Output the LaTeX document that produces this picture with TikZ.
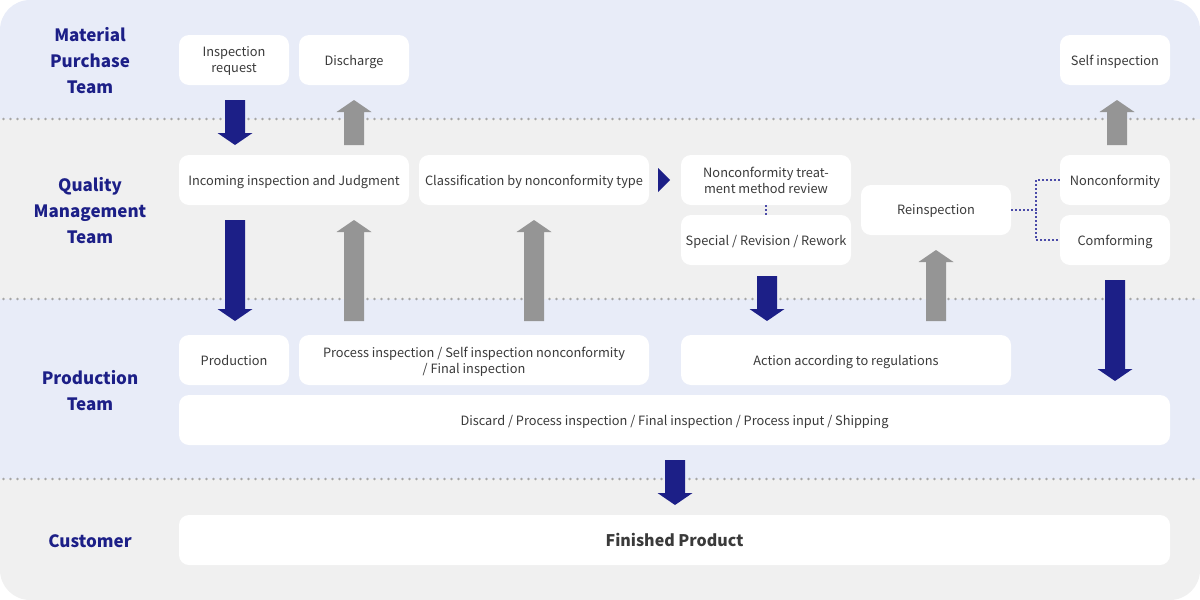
\documentclass[tikz,border=0pt]{standalone}
\usepackage{fontspec}
\setmainfont{Noto Sans CJK KR}
\definecolor{bgblue}{HTML}{E8ECF8}
\definecolor{bggray}{HTML}{F0F0F0}
\definecolor{navy}{HTML}{1C1F87}
\definecolor{arrgray}{HTML}{959595}
\definecolor{txt}{HTML}{3A3A3A}
\definecolor{fintxt}{HTML}{3A3A3A}
\definecolor{dotgray}{HTML}{A6A6A6}
\definecolor{dotblue}{HTML}{4B4BA8}
\newcommand{\dnarrow}[4]{% x, top, tip, color
  \fill[#4] (#1-10,#2) -- (#1+10,#2) -- (#1+10,#3-12) -- (#1+17.5,#3-12) -- (#1,#3) -- (#1-17.5,#3-12) -- (#1-10,#3-12) -- cycle;}
\newcommand{\uparrowblk}[4]{% x, tip(top), bottom, color
  \fill[#4] (#1-10,#3) -- (#1+10,#3) -- (#1+10,#2+12) -- (#1+17.5,#2+12) -- (#1,#2) -- (#1-17.5,#2+12) -- (#1-10,#2+12) -- cycle;}
\begin{document}
\begin{tikzpicture}[x=1pt,y=-1pt,
  box/.style={fill=white, rounded corners=10pt, inner sep=0pt, align=center,
    text=txt, text depth=0pt, font=\fontsize{12.8}{16}\selectfont},
  team/.style={text=navy, align=center, font=\fontsize{17}{26}\selectfont\bfseries},
  sep/.style={dotgray, line width=2.6pt, line cap=round, dash pattern=on 0pt off 7pt},
  dotcon/.style={dotblue, line width=1.3pt, dash pattern=on 2pt off 2pt}]
\useasboundingbox (0,0) rectangle (1200,600);
\begin{scope}
\clip[rounded corners=30pt] (0,0) rectangle (1200,600);
\fill[bgblue] (0,0) rectangle (1200,119);
\fill[bggray] (0,119) rectangle (1200,299);
\fill[bgblue] (0,299) rectangle (1200,479);
\fill[bggray] (0,479) rectangle (1200,600);
\end{scope}
\draw[sep] (3.5,119) -- (1200,119);
\draw[sep] (3.5,299) -- (1200,299);
\draw[sep] (3.5,479) -- (1200,479);

% team labels
\node[team] (t1) at (90,61) {Material\\Purchase\\Team};
\node[team] (t2) at (90,211) {Quality\\Management\\Team};
\node[team] (t3) at (90,391) {Production\\Team};
\node[team] (t4) at (90,541) {Customer};

% boxes
\node[box, minimum width=110pt, minimum height=50pt] (insreq) at (234,60) {Inspection\\request};
\node[box, minimum width=110pt, minimum height=50pt] (disch) at (354,60) {Discharge};
\node[box, minimum width=110pt, minimum height=50pt] (selfi) at (1115,60) {Self inspection};
\node[box, minimum width=230pt, minimum height=50pt] (incom) at (294,180) {Incoming inspection and Judgment};
\node[box, minimum width=230pt, minimum height=50pt] (class) at (534,180) {Classification by nonconformity type};
\node[box, minimum width=170pt, minimum height=50pt] (rev) at (766,180) {Nonconformity treat-\\ment method review};
\node[box, minimum width=170pt, minimum height=50pt] (spec) at (766,240) {Special / Revision / Rework};
\node[box, minimum width=150pt, minimum height=50pt] (reins) at (936,210) {Reinspection};
\node[box, minimum width=110pt, minimum height=50pt] (nonc) at (1115,180) {Nonconformity};
\node[box, minimum width=110pt, minimum height=50pt] (comf) at (1115,240) {Comforming};
\node[box, minimum width=110pt, minimum height=50pt] (prod) at (234,360) {Production};
\node[box, minimum width=350pt, minimum height=50pt] (proc) at (474,360) {Process inspection / Self inspection nonconformity\\/ Final inspection};
\node[box, minimum width=330pt, minimum height=50pt] (act) at (846,360) {Action according to regulations};
\node[box, minimum width=991pt, minimum height=50pt] (disc) at (674.5,420) {Discard / Process inspection / Final inspection / Process input / Shipping};
\node[box, minimum width=991pt, minimum height=50pt, text=fintxt, font=\fontsize{16}{20}\selectfont\bfseries] (fin) at (674.5,540) {Finished Product};

% dotted connectors
\draw[dotcon] (rev.south) -- (spec.north);
\coordinate (j) at (1036,210);
\draw[dotcon] (reins.east) -- (j);
\draw[dotcon] (nonc.west) -| (j) |- (comf.west);

% triangle
\fill[navy] (658,168) -- (670,180) -- (658,192) -- cycle;

% block arrows
\dnarrow{235}{100}{145}{navy}
\uparrowblk{354}{100}{145}{arrgray}
\uparrowblk{1117}{100}{145}{arrgray}
\dnarrow{235}{220}{321}{navy}
\uparrowblk{354}{220}{321}{arrgray}
\uparrowblk{534}{220}{321}{arrgray}
\dnarrow{767}{276}{321}{navy}
\uparrowblk{936}{250}{321}{arrgray}
\dnarrow{1115}{280}{381}{navy}
\dnarrow{675}{460}{505}{navy}
\end{tikzpicture}
\end{document}
